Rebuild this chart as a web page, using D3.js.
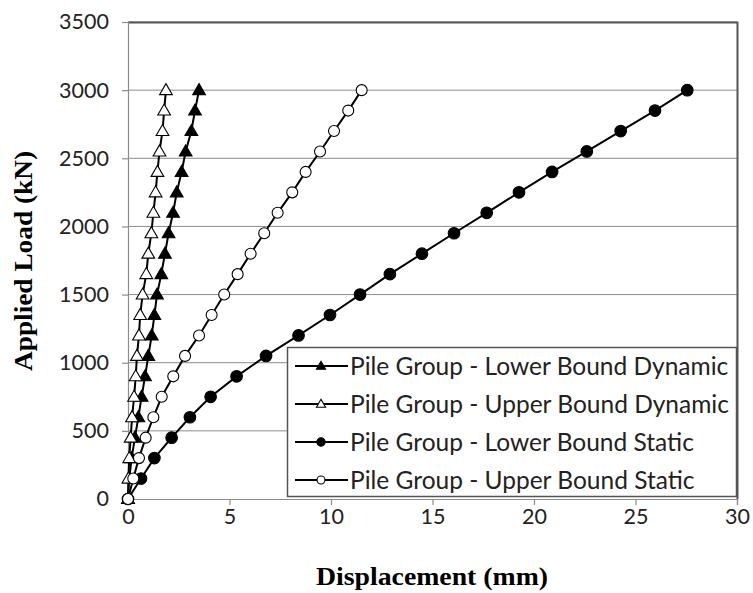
<!DOCTYPE html>
<html>
<head>
<meta charset="utf-8">
<script src="https://cdn.jsdelivr.net/npm/d3@7"></script>
<style>
  html, body { margin: 0; padding: 0; background: #fff; }
  svg { display: block; }
</style>
</head>
<body>
<svg id="chart" width="753" height="593"></svg>
<script>
// Load steps (kN) shared by every series
const loads = [0, 150, 300, 450, 600, 750, 900, 1050, 1200, 1350, 1500,
               1650, 1800, 1950, 2100, 2250, 2400, 2550, 2700, 2850, 3000];

// Displacement (mm) at each load step
const lowerDynamic = [0, 0.06, 0.18, 0.34, 0.51, 0.67, 0.84, 1.0, 1.17, 1.3, 1.43,
                      1.64, 1.82, 2.0, 2.22, 2.4, 2.64, 2.84, 3.12, 3.3, 3.5];
const upperDynamic = [0, 0.02, 0.06, 0.13, 0.2, 0.3, 0.38, 0.44, 0.54, 0.6, 0.72,
                      0.9, 1.0, 1.15, 1.25, 1.36, 1.45, 1.55, 1.7, 1.78, 1.87];
const lowerStatic = [0, 0.64, 1.3, 2.15, 3.05, 4.07, 5.35, 6.8, 8.4, 9.95, 11.43,
                     12.9, 14.48, 16.06, 17.67, 19.26, 20.89, 22.6, 24.27, 25.96, 27.55];
const upperStatic = [0, 0.26, 0.54, 0.87, 1.25, 1.66, 2.23, 2.81, 3.5, 4.12, 4.74,
                     5.4, 6.04, 6.71, 7.37, 8.09, 8.75, 9.46, 10.15, 10.85, 11.51];

const seriesNames = ["Pile Group - Lower Bound Dynamic", "Pile Group - Upper Bound Dynamic",
                     "Pile Group - Lower Bound Static", "Pile Group - Upper Bound Static"];
const seriesValues = [lowerDynamic, upperDynamic, lowerStatic, upperStatic];
const seriesMarkers = ["triangle", "triangle", "circle", "circle"];
const seriesFilled = [true, false, true, false];

const xTicks = [0, 5, 10, 15, 20, 25, 30];
const yTicks = [0, 500, 1000, 1500, 2000, 2500, 3000, 3500];

const xTitle = "Displacement (mm)";
const yTitle = "Applied Load (kN)";

const svg = d3.select("#chart");
const plot = { left: 128, right: 737, top: 22, bottom: 499 };

const x = d3.scaleLinear().domain([0, 30]).range([plot.left, plot.right]);
const y = d3.scaleLinear().domain([0, 3500]).range([plot.bottom, plot.top]);

// Horizontal gridlines
svg.append("g")
  .selectAll("line")
  .data(yTicks.slice(1))
  .join("line")
  .attr("x1", plot.left).attr("x2", plot.right)
  .attr("y1", d => y(d)).attr("y2", d => y(d))
  .attr("stroke", "#8c8c8c").attr("stroke-width", 1);

// Plot-area frame on top and right
svg.append("path")
  .attr("d", `M${plot.left},${plot.top + 0.5}H${plot.right + 0.5}V${plot.bottom}`)
  .attr("fill", "none").attr("stroke", "#555").attr("stroke-width", 2);

// Axes
const tickFont = "Lato, 'Open Sans', sans-serif";
const xAxis = svg.append("g")
  .attr("transform", `translate(0,${plot.bottom})`)
  .call(d3.axisBottom(x).tickValues(xTicks).tickFormat(d3.format("d"))
    .tickSize(6).tickPadding(4));
const yAxis = svg.append("g")
  .attr("transform", `translate(${plot.left},0)`)
  .call(d3.axisLeft(y).tickValues(yTicks).tickFormat(d3.format("d"))
    .tickSize(6).tickPadding(13));
[xAxis, yAxis].forEach(g => {
  g.select(".domain").attr("stroke", "#8c8c8c").attr("stroke-width", 1.2);
  g.selectAll(".tick line").attr("stroke", "#8c8c8c").attr("stroke-width", 1.2);
  g.selectAll(".tick text")
    .attr("font-family", tickFont).attr("font-size", 21.5).attr("fill", "#222");
});

// Marker shapes
function drawMarker(g, type, filled, cx, cy, scale) {
  if (type === "triangle") {
    g.append("path")
      .attr("d", d3.symbol().type(d3.symbolTriangle).size(70 * scale * scale)())
      .attr("transform", `translate(${cx},${cy + 0.8 * scale})`)
      .attr("fill", filled ? "#000" : "#fff")
      .attr("stroke", "#000").attr("stroke-width", 1.1);
  } else {
    g.append("circle")
      .attr("cx", cx).attr("cy", cy).attr("r", (filled ? 5.8 : 5.5) * scale)
      .attr("fill", filled ? "#000" : "#fff")
      .attr("stroke", "#000").attr("stroke-width", 1.1);
  }
}

// Series lines and markers
const line = d3.line().x(d => x(d[0])).y(d => y(d[1]));
seriesValues.forEach((vals, i) => {
  const pts = vals.map((v, j) => [v, loads[j]]);
  const g = svg.append("g");
  g.append("path").datum(pts)
    .attr("d", line).attr("fill", "none")
    .attr("stroke", "#000").attr("stroke-width", 2);
  pts.forEach(p => drawMarker(g, seriesMarkers[i], seriesFilled[i], x(p[0]), y(p[1]), 1));
});

// Legend
const legend = svg.append("g");
legend.append("rect")
  .attr("x", 287.5).attr("y", 347.5).attr("width", 449).attr("height", 149)
  .attr("fill", "#fff").attr("stroke", "#555").attr("stroke-width", 1.5);
seriesNames.forEach((name, i) => {
  const cy = 366 + i * 38;
  legend.append("line")
    .attr("x1", 295).attr("x2", 348).attr("y1", cy).attr("y2", cy)
    .attr("stroke", "#000").attr("stroke-width", 2);
  drawMarker(legend, seriesMarkers[i], seriesFilled[i], 321, cy, 0.72);
  legend.append("text")
    .attr("x", 350).attr("y", cy).attr("dy", "0.36em")
    .attr("font-family", tickFont).attr("font-size", 24.5).attr("fill", "#222")
    .text(name);
});

// Axis titles
svg.append("text")
  .attr("x", 432).attr("y", 585)
  .attr("text-anchor", "middle")
  .attr("font-family", "'Liberation Serif', 'Times New Roman', serif")
  .attr("font-weight", "bold").attr("font-size", 25).attr("fill", "#000")
  .attr("textLength", 232).attr("lengthAdjust", "spacingAndGlyphs")
  .text(xTitle);
svg.append("text")
  .attr("transform", `translate(32,261) rotate(-90)`)
  .attr("text-anchor", "middle")
  .attr("font-family", "'Liberation Serif', 'Times New Roman', serif")
  .attr("font-weight", "bold").attr("font-size", 25).attr("fill", "#000")
  .attr("textLength", 220).attr("lengthAdjust", "spacingAndGlyphs")
  .text(yTitle);
</script>
</body>
</html>
